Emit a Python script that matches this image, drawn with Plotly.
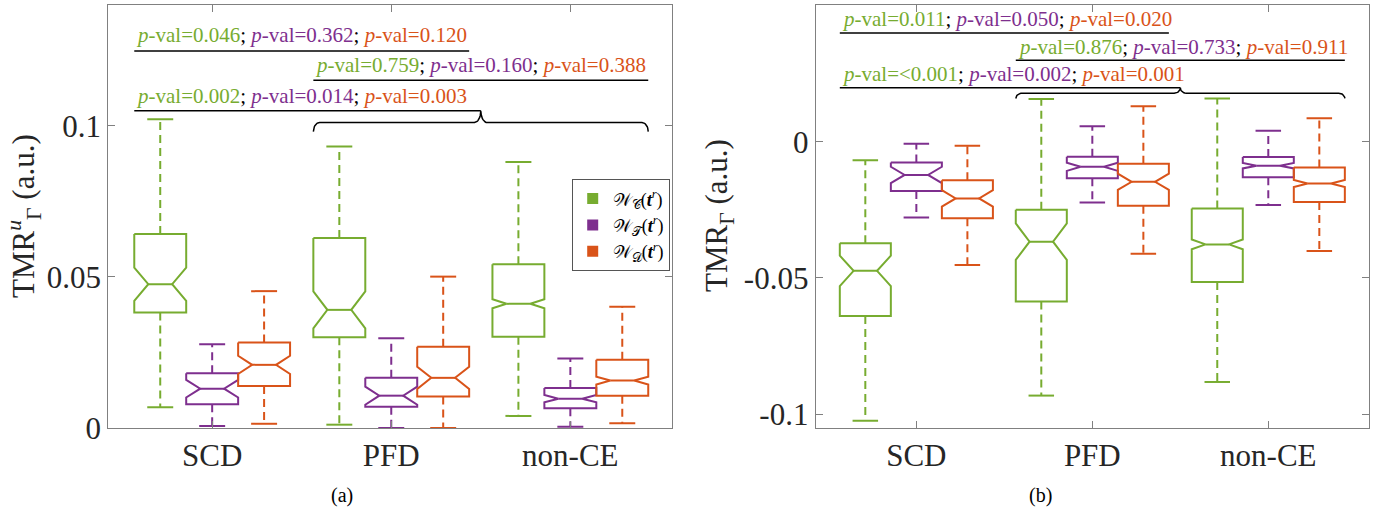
import plotly.graph_objects as go
import numpy as np

# ---------------- data ----------------
categories = ["SCD", "PFD", "non-CE"]
series_labels = [
    "𝒲<sub>𝒞</sub>(<b><i>t</i></b><sup><i>r</i></sup>)",
    "𝒲<sub>𝒯</sub>(<b><i>t</i></b><sup><i>r</i></sup>)",
    "𝒲<sub>𝒟</sub>(<b><i>t</i></b><sup><i>r</i></sup>)",
]

# Panel (a): TMR^u_Gamma  (per series: values for SCD, PFD, non-CE)
a_C_upper = [0.1022, 0.0932, 0.0880]
a_C_q3 = [0.0642, 0.0629, 0.0542]
a_C_median = [0.0476, 0.0391, 0.0411]
a_C_q1 = [0.0382, 0.0300, 0.0302]
a_C_lower = [0.0069, 0.0011, 0.0040]
a_C_notch = [0.0055, 0.0061, 0.0015]

a_T_upper = [0.0277, 0.0297, 0.0230]
a_T_q3 = [0.0181, 0.0166, 0.0132]
a_T_median = [0.0130, 0.0107, 0.0097]
a_T_q1 = [0.0079, 0.0070, 0.0065]
a_T_lower = [0.0007, 0.0000, 0.0004]
a_T_notch = [0.0029, 0.0030, 0.0012]

a_D_upper = [0.0453, 0.0501, 0.0401]
a_D_q3 = [0.0283, 0.0269, 0.0226]
a_D_median = [0.0209, 0.0166, 0.0157]
a_D_q1 = [0.0139, 0.0104, 0.0107]
a_D_lower = [0.0014, 0.0000, 0.0016]
a_D_notch = [0.0030, 0.0037, 0.0013]

# Panel (b): TMR_Gamma
b_C_upper = [-0.0068, 0.0157, 0.0159]
b_C_q3 = [-0.0373, -0.0250, -0.0245]
b_C_median = [-0.0474, -0.0367, -0.0377]
b_C_q1 = [-0.0640, -0.0587, -0.0515]
b_C_lower = [-0.1024, -0.0932, -0.0882]
b_C_notch = [0.0056, 0.0067, 0.0018]

b_T_upper = [-0.0007, 0.0057, 0.0040]
b_T_q3 = [-0.0076, -0.0055, -0.0056]
b_T_median = [-0.0122, -0.0092, -0.0088]
b_T_q1 = [-0.0181, -0.0134, -0.0130]
b_T_lower = [-0.0278, -0.0223, -0.0232]
b_T_notch = [0.0030, 0.0015, 0.0010]

b_D_upper = [-0.0015, 0.0130, 0.0086]
b_D_q3 = [-0.0141, -0.0081, -0.0095]
b_D_median = [-0.0208, -0.0147, -0.0153]
b_D_q1 = [-0.0281, -0.0235, -0.0221]
b_D_lower = [-0.0453, -0.0411, -0.0401]
b_D_notch = [0.0030, 0.0030, 0.0013]

# p-values for comparisons: SCD vs PFD, PFD vs non-CE, SCD vs (PFD + non-CE)
a_pvals = [["0.046", "0.362", "0.120"], ["0.759", "0.160", "0.388"], ["0.002", "0.014", "0.003"]]
b_pvals = [["0.011", "0.050", "0.020"], ["0.876", "0.733", "0.911"], ["&lt;0.001", "0.002", "0.001"]]

# tick labels
a_ytickvals = [0, 0.05, 0.1]
a_yticktext = ["0", "0.05", "0.1"]
b_ytickvals = [-0.1, -0.05, 0]
b_yticktext = ["-0.1", "-0.05", "0"]

# bracket heights (data units): line levels, text levels, brace bar, brace tip
a_line_levels = [0.1248, 0.1151, 0.1050]
a_text_levels = [0.1301, 0.1200, 0.1099]
a_brace = [0.1011, 0.0981]
b_line_levels = [0.0399, 0.0299, 0.0198]
b_text_levels = [0.0450, 0.0349, 0.0249]
b_brace = [0.0178, 0.0159]

# ---------------- style ----------------
colors = ["#77AC30", "#7E2F8E", "#D95319"]
OFFSETS = [-0.29, 0.0, 0.29]
BOX_W = 0.29
CAP_W = 0.145
NOTCH_INNER = 0.46
FONT = "Liberation Serif"
AX_COLOR = "#808080"
TXT_COLOR = "#262626"

fig = go.Figure()

panels = [
    ("x", "y", [
        (a_C_upper, a_C_q3, a_C_median, a_C_q1, a_C_lower, a_C_notch),
        (a_T_upper, a_T_q3, a_T_median, a_T_q1, a_T_lower, a_T_notch),
        (a_D_upper, a_D_q3, a_D_median, a_D_q1, a_D_lower, a_D_notch),
    ], a_pvals, a_line_levels, a_text_levels, a_brace),
    ("x2", "y2", [
        (b_C_upper, b_C_q3, b_C_median, b_C_q1, b_C_lower, b_C_notch),
        (b_T_upper, b_T_q3, b_T_median, b_T_q1, b_T_lower, b_T_notch),
        (b_D_upper, b_D_q3, b_D_median, b_D_q1, b_D_lower, b_D_notch),
    ], b_pvals, b_line_levels, b_text_levels, b_brace),
]

annotations = []
hw = BOX_W / 2
iw = hw * NOTCH_INNER

for xa, ya, stats, pvals, lines, texts, brace in panels:
    for k, (up, q3, med, q1, lo, notch) in enumerate(stats):
        pos = [g + 1 + OFFSETS[k] for g in range(len(categories))]
        wx, wy, cx, cy, ox, oy = [], [], [], [], [], []
        for p, u, a3, m, a1, l, n in zip(pos, up, q3, med, q1, lo, notch):
            wx += [p, p, None, p, p, None]
            wy += [a3, u, None, a1, l, None]
            cx += [p - CAP_W / 2, p + CAP_W / 2, None, p - CAP_W / 2, p + CAP_W / 2, None]
            cy += [u, u, None, l, l, None]
            ox += [p - hw, p + hw, p + hw, p + iw, p + hw, p + hw, p - hw, p - hw, p - iw, p - hw, p - hw, None,
                   p - iw, p + iw, None]
            oy += [a3, a3, m + n, m, m - n, a1, a1, m - n, m, m + n, a3, None, m, m, None]
        fig.add_trace(go.Scatter(x=wx, y=wy, mode="lines", xaxis=xa, yaxis=ya,
                                 line=dict(color=colors[k], width=2, dash="8px,5px"),
                                 showlegend=False, hoverinfo="skip"))
        fig.add_trace(go.Scatter(x=cx, y=cy, mode="lines", xaxis=xa, yaxis=ya,
                                 line=dict(color=colors[k], width=2),
                                 showlegend=False, hoverinfo="skip"))
        fig.add_trace(go.Scatter(x=ox, y=oy, mode="lines", xaxis=xa, yaxis=ya,
                                 line=dict(color=colors[k], width=2),
                                 showlegend=False, hoverinfo="skip"))

    left_edge = [g + 1 + OFFSETS[0] - hw for g in range(3)]
    right_edge = [g + 1 + OFFSETS[2] + hw for g in range(3)]
    brace_x0, brace_x1 = left_edge[1], right_edge[2]
    brace_c = (brace_x0 + brace_x1) / 2
    spans = [(left_edge[0], right_edge[1]), (left_edge[1], right_edge[2]), (left_edge[0], brace_c)]
    bx, by = [], []
    for (x0, x1), ly in zip(spans, lines):
        bx += [x0, x1, None]
        by += [ly, ly, None]
    # curly brace
    bar, tip = brace
    top = lines[2]
    rx = 0.035
    seg_x, seg_y = [], []
    th = np.linspace(np.pi, np.pi / 2, 12)          # left tip
    seg_x += list(brace_x0 + rx + rx * np.cos(th)); seg_y += list(tip + (bar - tip) * np.sin(th))
    th = np.linspace(-np.pi / 2, 0, 12)             # cusp, left half
    seg_x += list(brace_c - rx + rx * np.cos(th)); seg_y += list(top + (top - bar) * np.sin(th))
    th = np.linspace(np.pi, 1.5 * np.pi, 12)        # cusp, right half
    seg_x += list(brace_c + rx + rx * np.cos(th)); seg_y += list(top + (top - bar) * np.sin(th))
    th = np.linspace(np.pi / 2, 0, 12)              # right tip
    seg_x += list(brace_x1 - rx + rx * np.cos(th)); seg_y += list(tip + (bar - tip) * np.sin(th))
    bx += seg_x + [None]
    by += seg_y + [None]
    fig.add_trace(go.Scatter(x=bx, y=by, mode="lines", xaxis=xa, yaxis=ya,
                             line=dict(color="black", width=1.5),
                             showlegend=False, hoverinfo="skip"))
    for (x0, x1), ty, pv in zip(spans, texts, pvals):
        parts = ['<span style="color:%s"><i>p</i>-val=%s</span>' % (c, v) for c, v in zip(colors, pv)]
        annotations.append(dict(x=x0, y=ty, xref=xa, yref=ya, text="; ".join(parts),
                                showarrow=False, xanchor="left", yanchor="middle",
                                font=dict(family=FONT, size=21, color="black")))

# legend entries
for k in range(3):
    fig.add_trace(go.Scatter(x=[None], y=[None], mode="markers", name=series_labels[k],
                             marker=dict(symbol="square", size=11, color=colors[k]),
                             xaxis="x", yaxis="y"))

W, H = 1381, 510
ydom = [1 - 428 / H, 1 - 5 / H]
axis_common = dict(showline=True, linecolor=AX_COLOR, linewidth=1.2, mirror="ticks",
                   ticks="inside", ticklen=7, tickcolor=AX_COLOR, showgrid=False, zeroline=False,
                   automargin=False,
                   tickfont=dict(family=FONT, size=31, color=TXT_COLOR))

fig.update_layout(
    width=W, height=H, margin=dict(l=0, r=0, t=0, b=0, autoexpand=False),
    paper_bgcolor="white", plot_bgcolor="white",
    xaxis=dict(domain=[108.3 / W, 671.7 / W], range=[0.42, 3.566], anchor="y",
               tickvals=[1, 2, 3], ticktext=categories, **axis_common),
    yaxis=dict(domain=ydom, range=[0, 0.14], anchor="x",
               tickvals=a_ytickvals, ticktext=a_yticktext, **axis_common),
    xaxis2=dict(domain=[815.7 / W, 1369.3 / W], range=[0.428, 3.574], anchor="y2",
                tickvals=[1, 2, 3], ticktext=categories, **axis_common),
    yaxis2=dict(domain=ydom, range=[-0.1051, 0.0502], anchor="x2",
                tickvals=b_ytickvals, ticktext=b_yticktext, **axis_common),
    legend=dict(x=571.7 / W, y=1 - 179.3 / H, xanchor="left", yanchor="top",
                bgcolor="white", bordercolor="#555555", borderwidth=1,
                font=dict(family=FONT, size=18, color="black"),
                itemwidth=30, tracegroupgap=0),
    showlegend=True,
)

annotations += [
    dict(x=24 / W, y=1 - 216 / H, xref="paper", yref="paper", textangle=-90,
         xanchor="center", yanchor="middle",
         text="TMR<sup><i>u</i></sup><sub>Γ</sub> (a.u.)", showarrow=False,
         font=dict(family=FONT, size=31, color=TXT_COLOR)),
    dict(x=719 / W, y=1 - 216 / H, xref="paper", yref="paper", textangle=-90,
         xanchor="center", yanchor="middle",
         text="TMR<sub>Γ</sub> (a.u.)", showarrow=False,
         font=dict(family=FONT, size=31, color=TXT_COLOR)),
    dict(x=342 / W, y=1 - 495 / H, xref="paper", yref="paper", text="(a)", showarrow=False,
         xanchor="center", yanchor="middle",
         font=dict(family=FONT, size=20, color="black")),
    dict(x=1040 / W, y=1 - 495 / H, xref="paper", yref="paper", text="(b)", showarrow=False,
         xanchor="center", yanchor="middle",
         font=dict(family=FONT, size=20, color="black")),
]
fig.update_layout(annotations=annotations)

fig.write_html("out.html")
